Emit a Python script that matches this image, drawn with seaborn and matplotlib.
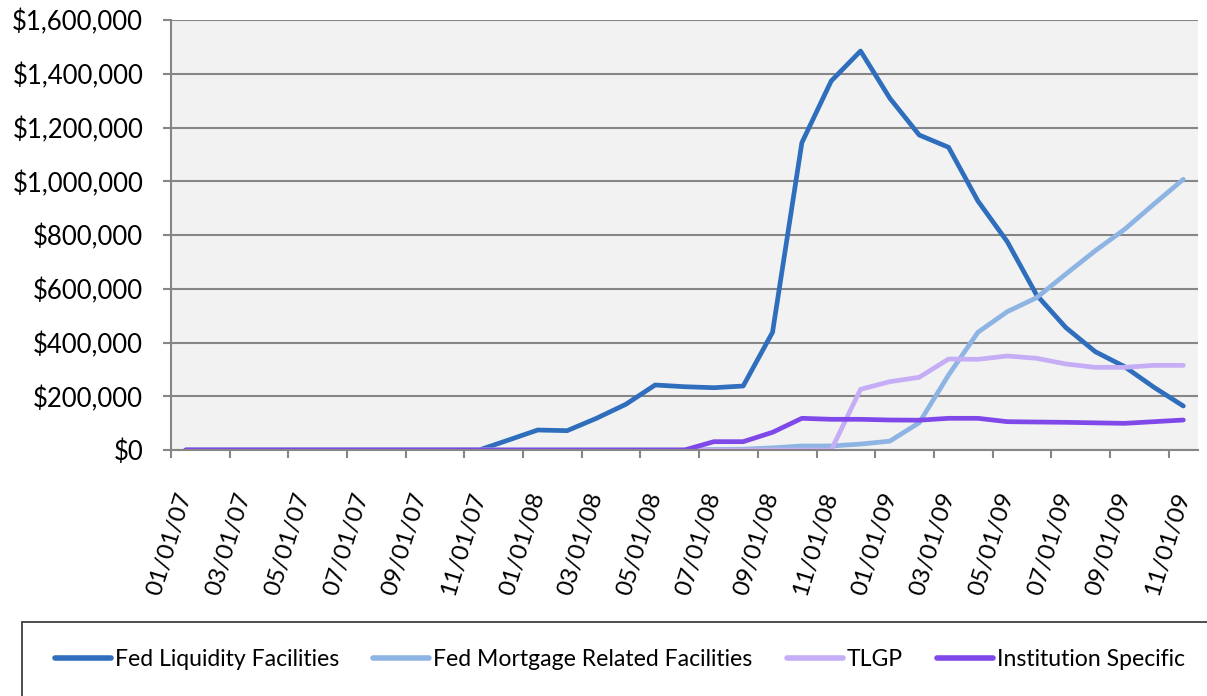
import matplotlib
matplotlib.use("Agg")
import matplotlib.pyplot as plt
import matplotlib.ticker as mticker
from matplotlib.patches import Rectangle
import seaborn as sns
import pandas as pd

# monthly observations, 01/2007 .. 11/2009
dates = pd.date_range("2007-01-01", periods=35, freq="MS")

fed_liquidity = [0, 0, 0, 0, 0, 0, 0, 0, 0, 0, 0,
                 37000, 74400, 71900, 117900, 170000, 241900, 235500, 231800,
                 238100, 438000, 1143500, 1373000, 1484600, 1308600, 1172000,
                 1126300, 926500, 775100, 576700, 455100, 365800, 310000,
                 233300, 163700]
fed_mortgage = [0, 0, 0, 0, 0, 1500, 1500, 1500, 1500, 1500, 0, 0, 0, 0, 0,
                0, 0, 0,
                2000, 3000, 8000, 15000, 15000, 22000, 33000, 101600, 279000,
                438000, 514700, 566800, 654900, 741700, 821100, 915300, 1007200]
tlgp = [0] * 23 + [225800, 254300, 270500, 338600, 337400, 349800, 341200,
                   320000, 307600, 307600, 315000, 315000]
institution = [0] * 18 + [31000, 31000, 65800, 117900, 114200, 114200, 111600,
                          111000, 117900, 117900, 105400, 104100, 103000,
                          101000, 99200, 105400, 111600]

names = ["Fed Liquidity Facilities", "Fed Mortgage Related Facilities",
         "TLGP", "Institution Specific"]
colors = ["#2F6EBC", "#8DB4E2", "#C5AEF5", "#7F48E8"]

df = pd.DataFrame({"idx": range(len(dates)),
                   names[0]: fed_liquidity, names[1]: fed_mortgage,
                   names[2]: tlgp, names[3]: institution})
long = df.melt(id_vars="idx", var_name="series", value_name="value")

plt.rcParams["font.family"] = ["Lato", "DejaVu Sans"]

fig = plt.figure(figsize=(12.07, 6.96), dpi=100)
ax = fig.add_axes([171 / 1207, 1 - 450 / 696, 1027 / 1207, 430 / 696])

sns.lineplot(data=long, x="idx", y="value", hue="series", hue_order=names,
             palette=dict(zip(names, colors)), linewidth=3.4, ax=ax,
             legend=True)
for ln in ax.get_lines():
    ln.set_solid_capstyle("round")
    ln.set_solid_joinstyle("round")

ax.set_facecolor("#F2F2F2")
ax.set_xlim(-0.5, len(dates) - 0.5)
ax.set_ylim(0, 1600000)
ax.yaxis.set_major_locator(mticker.MultipleLocator(200000))
ax.yaxis.set_major_formatter(mticker.FuncFormatter(lambda v, p: "${:,.0f}".format(v)))
ax.grid(axis="y", color="#868686", linewidth=1.5)
ax.set_axisbelow(True)
ax.set_xlabel("")
ax.set_ylabel("")

for s in ["top", "right"]:
    ax.spines[s].set_visible(False)
for s in ["left", "bottom"]:
    ax.spines[s].set_color("#868686")
    ax.spines[s].set_linewidth(1.5)

ax.set_xticks(range(0, len(dates), 2))
ax.set_xticklabels([d.strftime("%m/%d/%y") for d in dates[::2]],
                   rotation=73, ha="right", va="center", rotation_mode="anchor")
ax.set_xticks([i - 0.5 for i in range(0, len(dates), 2)], minor=True)
ax.tick_params(axis="x", which="major", length=0, pad=31, labelsize=17.5)
ax.tick_params(axis="x", which="minor", length=6, width=1.5, color="#868686")
ax.tick_params(axis="y", length=6, width=1.5, color="#868686", pad=14,
               labelsize=18.5)

handles, labels = ax.get_legend_handles_labels()
ax.get_legend().remove()
for h in handles:
    h.set_linewidth(4)
fsz = 16.6
fig.legend(handles, labels, loc="center", ncol=4, frameon=False,
           bbox_to_anchor=(620 / 1207, 1 - 660 / 696), fontsize=fsz,
           handlelength=56 / (fsz * 1.389), handletextpad=4 / (fsz * 1.389),
           columnspacing=34 / (fsz * 1.389))
fig.patches.append(Rectangle((22 / 1207, -0.1), 1.2, 0.1 + 74 / 696,
                             transform=fig.transFigure, fill=False,
                             edgecolor="#404040", linewidth=1.3))

fig.savefig("out.png", dpi=100)
